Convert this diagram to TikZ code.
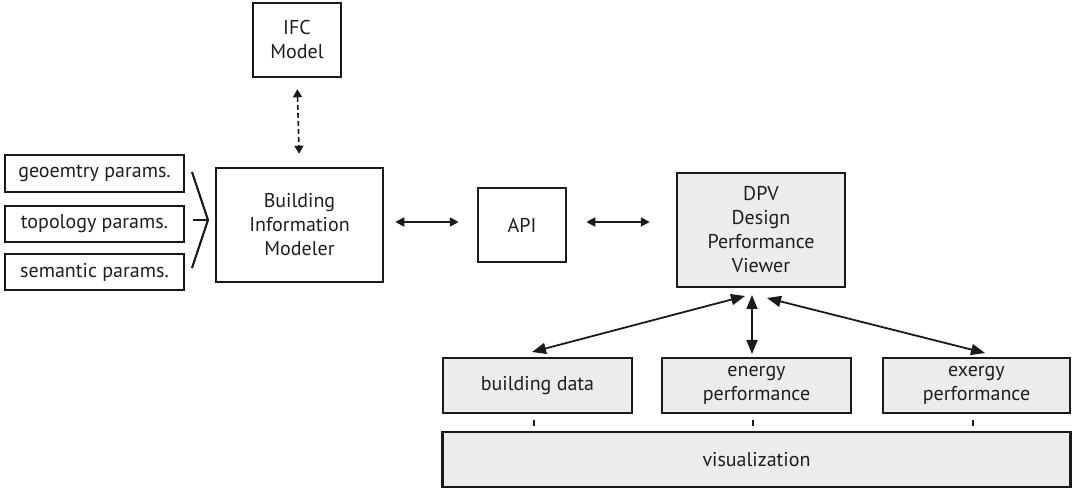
\documentclass[tikz,border=0pt]{standalone}
\usepackage{fontspec}
\setmainfont{PT Sans}
\usetikzlibrary{arrows.meta,calc}

\definecolor{inkline}{HTML}{1A1A1A}
\definecolor{inktext}{HTML}{1E1E1E}
\definecolor{panel}{HTML}{ECECEC}

\tikzset{
  box/.style={draw=inkline, line width=2.5pt, text=inktext, align=center,
    inner sep=0pt, font=\fontsize{20}{24}\selectfont},
  greybox/.style={box, fill=panel},
  link/.style={draw=inkline, line width=1.8pt,
    {Triangle[length=9pt,width=9pt]}-{Triangle[length=9pt,width=9pt]}},
  biglink/.style={draw=inkline, line width=1.8pt,
    {Triangle[length=14pt,width=11pt]}-{Triangle[length=14pt,width=11pt]}},
  dashlink/.style={draw=inkline, line width=1.6pt, dash pattern=on 5pt off 3pt,
    {Triangle[length=8pt,width=9pt]}-{Triangle[length=8pt,width=9pt]}},
  tick/.style={draw=inkline, line width=2.5pt},
  brace/.style={draw=inkline, line width=2.2pt, line join=miter},
}

\begin{document}
\begin{tikzpicture}[x=1pt, y=-1pt]
\useasboundingbox (0,0) rectangle (1072,489);

% model side
\node[box, minimum width=88pt, minimum height=74pt] (ifc) at (297,40) {IFC\\Model};
\node[box, minimum width=167pt, minimum height=114pt] (bim) at (299.5,225)
  {Building\\Information\\Modeler};

% parameter inputs
\node[box, minimum width=179pt, minimum height=37pt] (geo) at (94.5,173.5) {geoemtry params.};
\node[box, minimum width=179pt, minimum height=36pt] (topo) at (94.5,224) {topology params.};
\node[box, minimum width=179pt, minimum height=36pt] (sem) at (94.5,272) {semantic params.};

% interface and viewer
\node[box, minimum width=88pt, minimum height=74pt] (api) at (522,225) {API};
\node[greybox, minimum width=168pt, minimum height=114pt] (dpv) at (761,230)
  {DPV\\Design\\Performance\\Viewer};

% viewer modules
\node[greybox, minimum width=189pt, minimum height=55pt] (bd) at (537.5,385.5) {building data};
\node[greybox, minimum width=189pt, minimum height=55pt] (en) at (756.5,385.5) {energy\\performance};
\node[greybox, minimum width=187pt, minimum height=55pt] (ex) at (976.5,385.5) {exergy\\performance};
\node[greybox, minimum width=628pt, minimum height=55pt] (viz) at (756.5,459.5) {visualization};

% bracket gathering the parameters
\coordinate (brTop) at (192,172);
\coordinate (brTip) at (208,220);
\coordinate (brBot) at (192,268);
\coordinate (brMid) at (193,220);
\draw[brace] (brTop) -- (brTip) -- (brBot);
\draw[brace] (brMid) -- (brTip);

% exchange links
\draw[dashlink, shorten <=11pt, shorten >=13pt] (ifc.south) -- (bim.north);
\draw[link] ([xshift=11pt,yshift=3pt]bim.east) -- ([xshift=-18pt,yshift=3pt]api.west);
\draw[link] ([xshift=19pt,yshift=3pt]api.east) -- ([xshift=-26pt,yshift=8pt]dpv.west);

% viewer to modules
\coordinate (hubL) at (745,296);
\coordinate (hubM) at (752,295);
\coordinate (hubR) at (767,298);
\coordinate (endL) at (532,352);
\coordinate (endM) at (752,354);
\coordinate (endR) at (985,353);
\draw[biglink] (hubL) -- (endL);
\draw[biglink] (hubM) -- (endM);
\draw[biglink] (hubR) -- (endR);

% module to visualization ticks
\draw[tick] ([xshift=-3.5pt,yshift=-6pt]bd.south) -- ([xshift=-3.5pt,yshift=5pt]bd.south |- viz.north);
\draw[tick] ([xshift=-3.5pt,yshift=-6pt]en.south) -- ([xshift=-3.5pt,yshift=5pt]en.south |- viz.north);
\draw[tick] ([xshift=-3.5pt,yshift=-6pt]ex.south) -- ([xshift=-3.5pt,yshift=5pt]ex.south |- viz.north);
\end{tikzpicture}
\end{document}
